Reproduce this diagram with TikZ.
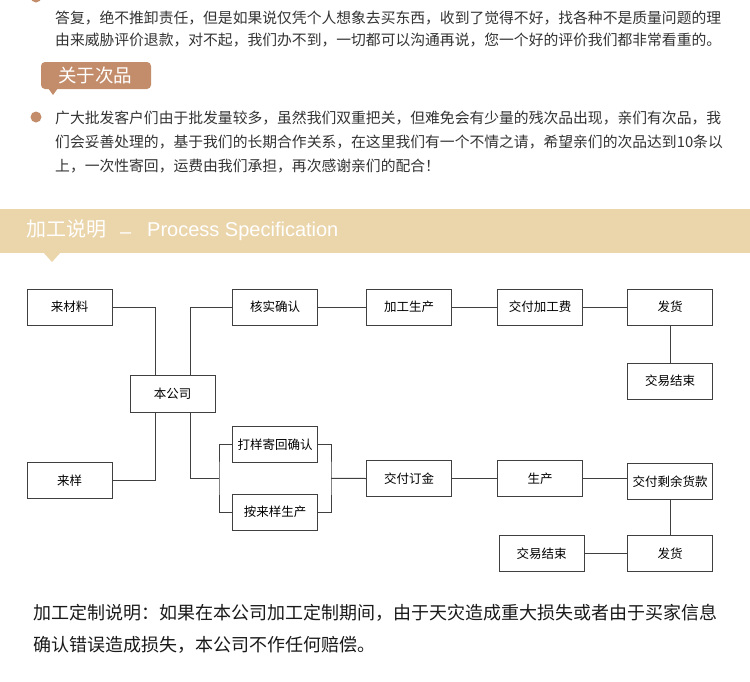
\documentclass[tikz,border=0pt]{standalone}
\usepackage{fontspec}
\setmainfont{Noto Sans CJK SC}
\newfontfamily\latinfont{Liberation Sans}
\usepackage{tikz}
\usetikzlibrary{
  calc,%
  positioning
}
\definecolor{tagbrown}{HTML}{C38D6B}
\definecolor{bandtan}{HTML}{EBD5AB}
\definecolor{inkgray}{HTML}{333333}
\tikzset{>=latex}
\tikzset{box/.style={draw=black!75, fill=white, line width=1pt,
  minimum width=85pt, minimum height=36pt, inner sep=0pt,
  font=\fontsize{12.5}{14}\selectfont}}
\tikzset{link/.style={draw=black!75, line width=1pt}}
\tikzset{para/.style={anchor=west, inner sep=0pt, text=inkgray,
  font=\fontsize{14.8}{17}\selectfont}}
\tikzset{dot/.style={circle, fill=tagbrown, minimum size=11pt, inner sep=0pt}}
\tikzset{headtext/.style={anchor=west, inner sep=0pt, text=white}}

\begin{document}
\begin{tikzpicture}[x=1pt, y=-1pt]
  \useasboundingbox (0,0) rectangle (750,681);
  \clip (0,0) rectangle (750,681);
  % paragraph cut by the top edge
  \node[dot] (d0) at (36,-3) {};
  \node[para] (t2) at (55,18) {答复，绝不推卸责任，但是如果说仅凭个人想象去买东西，收到了觉得不好，找各种不是质量问题的理};
  \node[para] (t3) at (55,40) {由来威胁评价退款，对不起，我们办不到，一切都可以沟通再说，您一个好的评价我们都非常看重的。};
  % tag
  \fill[tagbrown, rounded corners=4pt] (41,62) rectangle (151,89);
  \fill[tagbrown] (48,88) -- (53,95) -- (58,88) -- cycle;
  \node[text=white, font=\fontsize{18.5}{20}\selectfont] (tag) at (95,75.5) {关于次品};
  \node[dot] (d1) at (36,117) {};
  \node[para] (b1) at (55,118) {广大批发客户们由于批发量较多，虽然我们双重把关，但难免会有少量的残次品出现，亲们有次品，我};
  \node[para] (b2) at (55,142) {们会妥善处理的，基于我们的长期合作关系，在这里我们有一个不情之请，希望亲们的次品达到10条以};
  \node[para] (b3) at (55,166) {上，一次性寄回，运费由我们承担，再次感谢亲们的配合！};
  % band
  \fill[bandtan] (0,209) rectangle (750,253);
  \fill[bandtan] (43,252) -- (52,262) -- (61,252) -- cycle;
  \node[headtext, font=\fontsize{20}{22}\selectfont] (hd) at (26,228.5) {加工说明};
  \node[headtext, font=\latinfont\fontsize{20}{22}\selectfont] (hdash) at (120,236) {–};
  \node[headtext, font=\latinfont\fontsize{20}{22}\selectfont] (spec) at (147,231) {Process Specification};
  % chart
  \node[box] (mat) at (69.5,307) {来材料};
  \node[box] (smp) at (69.5,480.5) {来样};
  \node[box, minimum height=37pt] (co) at (172.5,393.5) {本公司};
  \node[box] (chk) at (275,307) {核实确认};
  \node[box] (prf) at (275,444.5) {打样寄回确认};
  \node[box] (bys) at (275,512) {按来样生产};
  \node[box] (proc) at (409,307) {加工生产};
  \node[box] (fee) at (540,307) {交付加工费};
  \node[box] (ship1) at (670,307) {发货};
  \node[box] (done1) at (670,381) {交易结束};
  \node[box] (dep) at (409,478.5) {交付订金};
  \node[box] (prod) at (540,478.5) {生产};
  \node[box] (rest) at (670,481.5) {交付剩余货款};
  \node[box] (ship2) at (670,553.5) {发货};
  \node[box] (done2) at (541.5,553.5) {交易结束};
  \coordinate (brl) at ($(prf.west)!0.5!(bys.west)+(-13,0)$);
  \coordinate (brr) at ($(prf.east)!0.5!(bys.east)+(13,0)$);
  \draw[link] (mat.east) -| ([xshift=-17.5pt]co.north);
  \draw[link] ([xshift=17.5pt]co.north) |- (chk.west);
  \draw[link] ([xshift=-17.5pt]co.south) |- (smp.east);
  \draw[link] ([xshift=17.5pt]co.south) |- (brl);
  \draw[link] (prf.west) -| (brl) |- (bys.west);
  \draw[link] (prf.east) -| (brr) |- (bys.east);
  \draw[link] (brr) -- (dep.west);
  \draw[link] (chk) -- (proc) -- (fee) -- (ship1) -- (done1);
  \draw[link] (dep) -- (prod);
  \draw[link] (prod.east) -- (prod.east -| rest.west);
  \draw[link] (rest) -- (ship2) -- (done2);
  % note
  \node[anchor=west, inner sep=0pt, text=black!90, font=\fontsize{18}{20}\selectfont] (n1) at (33,613) {加工定制说明：如果在本公司加工定制期间，由于天灾造成重大损失或者由于买家信息};
  \node[anchor=west, inner sep=0pt, text=black!90, font=\fontsize{18}{20}\selectfont] (n2) at (33,645) {确认错误造成损失，本公司不作任何赔偿。};
\end{tikzpicture}
\end{document}
